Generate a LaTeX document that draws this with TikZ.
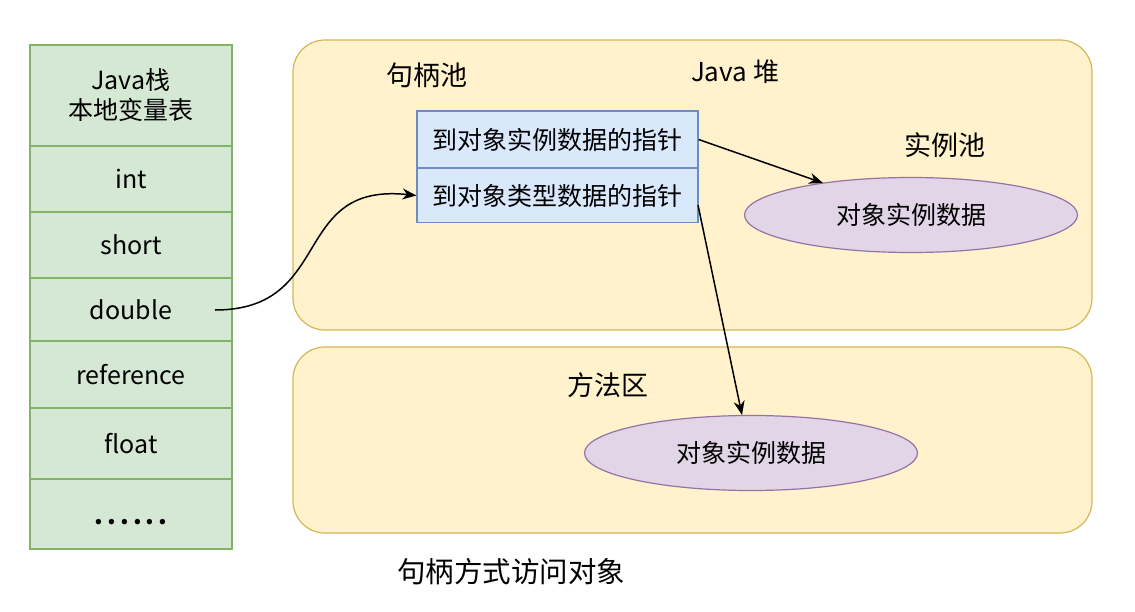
\documentclass[tikz,border=0pt]{standalone}
\usepackage{fontspec}
\setmainfont{Noto Sans CJK SC}
\usetikzlibrary{shapes.geometric,arrows.meta}
\definecolor{stackfill}{HTML}{D5E8D4}
\definecolor{stackline}{HTML}{82B366}
\definecolor{heapfill}{HTML}{FFF2CC}
\definecolor{heapline}{HTML}{D6B656}
\definecolor{handfill}{HTML}{DAE8FC}
\definecolor{handline}{HTML}{6C8EBF}
\definecolor{ellfill}{HTML}{E1D5E7}
\definecolor{ellline}{HTML}{9673A6}
\tikzset{
  cell/.style={draw=stackline,fill=stackfill,line width=1.5pt,minimum width=202pt,inner sep=0pt,font=\fontsize{25}{30}\selectfont,align=center},
  area/.style={draw=heapline,fill=heapfill,line width=1.2pt,rounded corners=32pt},
  hcell/.style={draw=handline,fill=handfill,line width=1.2pt,minimum width=281pt,inner sep=0pt,font=\fontsize{25}{30}\selectfont},
  obj/.style={ellipse,draw=ellline,fill=ellfill,line width=1.2pt,minimum width=333pt,minimum height=75pt,inner sep=0pt,font=\fontsize{25}{30}\selectfont},
  lbl/.style={font=\fontsize{27}{32}\selectfont,inner sep=0pt},
  conn/.style={line width=1.5pt,-{Stealth[length=14pt,width=11pt]}}
}
\begin{document}
\begin{tikzpicture}[x=1pt,y=-1pt]
\useasboundingbox (0,0) rectangle (1135,611);
% stack
\node[cell,minimum height=101pt] (s0) at (131,95.5) {Java栈\\本地变量表};
\node[cell,minimum height=66pt] (s1) at (131,179) {int};
\node[cell,minimum height=66pt] (s2) at (131,245) {short};
\node[cell,minimum height=63pt] (s3) at (131,309.5) {double};
\node[cell,minimum height=67pt] (s4) at (131,374.5) {reference};
\node[cell,minimum height=71pt] (s5) at (131,443.5) {float};
\node[cell,minimum height=70pt] (s6) at (131,514) {};
\node[inner sep=0pt,font=\fontsize{25}{30}\bfseries] (dots) at (131,522) {.\hspace{4pt}.\hspace{4pt}.\hspace{4pt}.\hspace{4pt}.\hspace{4pt}.};
% areas
\draw[area] (293,40) rectangle (1092,330);
\draw[area] (293,347) rectangle (1092,533);
\node[lbl] (hp) at (427,75) {句柄池};
\node[lbl,font=\fontsize{26}{30}\selectfont] (jh) at (735,72) {Java 堆};
\node[lbl] (ip) at (945,145) {实例池};
\node[lbl] (ma) at (608,385) {方法区};
% handle pool
\node[hcell,minimum height=57pt] (h1) at (557.5,139.5) {到对象实例数据的指针};
\node[hcell,minimum height=54pt] (h2) at (557.5,195.5) {到对象类型数据的指针};
% objects
\node[obj] (o1) at (911,215) {对象实例数据};
\node[obj] (o2) at (751,453) {对象实例数据};
% caption
\node[font=\fontsize{28.5}{32}\selectfont,inner sep=0pt] (cap) at (511,572) {句柄方式访问对象};
% connectors
\coordinate (d0) at (215,310);
\coordinate (t1) at (823,183);
\coordinate (s2a) at (698,205);
\coordinate (t2) at (742,415);
\draw[conn] (d0) .. controls (335,310) and (290,182) .. (h2.west);
\draw[conn] (h1.east) -- (t1);
\draw[conn] (s2a) -- (t2);
\end{tikzpicture}
\end{document}
